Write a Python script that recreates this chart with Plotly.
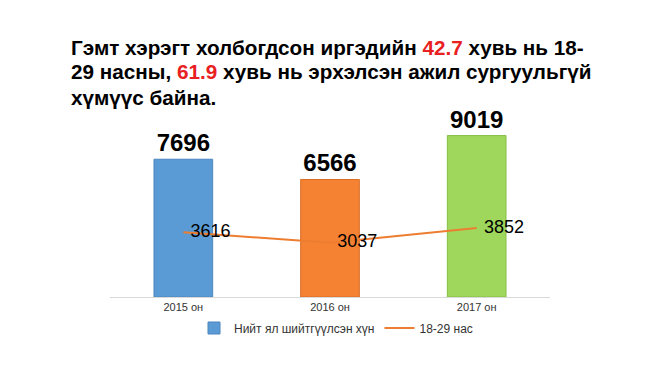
import plotly.graph_objects as go

categories = ["2015 он", "2016 он", "2017 он"]
total_convicted = [7696, 6566, 9019]
age_18_29 = [3616, 3037, 3852]
bar_colors = ["#5B9BD5", "#F58233", "#9ED75B"]
bar_edges = ["#4A86BF", "#D96E25", "#86BE45"]

# plot-area in figure pixels (page is offset by 8px body margin)
L, T, W, H = 102, 110, 440, 179

fig = go.Figure()
fig.add_trace(go.Bar(
    x=categories, y=total_convicted, name="Нийт ял шийтгүүлсэн хүн",
    marker=dict(color=bar_colors, line=dict(color=bar_edges, width=1)),
    text=[str(v) for v in total_convicted], textposition="outside",
    textfont=dict(size=24, color="#000000", family="Liberation Sans"),
    texttemplate="<b>%{text}</b>", cliponaxis=False,
))
fig.add_trace(go.Scatter(
    x=categories, y=age_18_29, name="18-29 нас", mode="lines+markers+text",
    line=dict(color="#ED7D31", width=2),
    marker=dict(size=10, color="rgba(0,0,0,0)"),
    text=[str(v) for v in age_18_29], textposition="middle right",
    textfont=dict(size=18, color="#000000", family="Liberation Sans"),
))

red = "#E8201F"
title_lines = [
    f"<b>Гэмт хэрэгт холбогдсон иргэдийн <span style='color:{red}'>42.7</span> хувь нь 18-</b>",
    f"<b>29 насны, <span style='color:{red}'>61.9</span> хувь нь эрхэлсэн ажил сургуульгүй</b>",
    "<b>хүмүүс байна.</b>",
]
title_centers = [47, 72, 97]  # page px
anns = []
for txt, yc in zip(title_lines, title_centers):
    fy = yc - 8
    anns.append(dict(
        text=txt, xref="paper", yref="paper",
        x=(62 - L) / W, y=1 - (fy - T) / H,
        showarrow=False, xanchor="left", yanchor="middle", align="left",
        borderpad=0,
        font=dict(size=20.7, color="#000000", family="Liberation Sans")))

fig.update_layout(
    width=650, height=365,
    margin=dict(l=L, r=650 - L - W, t=T, b=365 - T - H),
    paper_bgcolor="white", plot_bgcolor="white",
    bargap=0.6,
    showlegend=True,
    legend=dict(orientation="h", x=(328 - L) / W, xanchor="center",
                y=1 - (320 - T) / H, yanchor="middle",
                font=dict(size=12, color="#333333", family="Liberation Sans"),
                itemwidth=30),
    font=dict(family="Liberation Sans"),
    yaxis=dict(range=[0, 10000], visible=False),
    xaxis=dict(showline=True, linecolor="#D9D9D9", linewidth=1, ticks="",
               tickfont=dict(size=11, color="#333333")),
    annotations=anns,
)

fig.write_html("out.html")
